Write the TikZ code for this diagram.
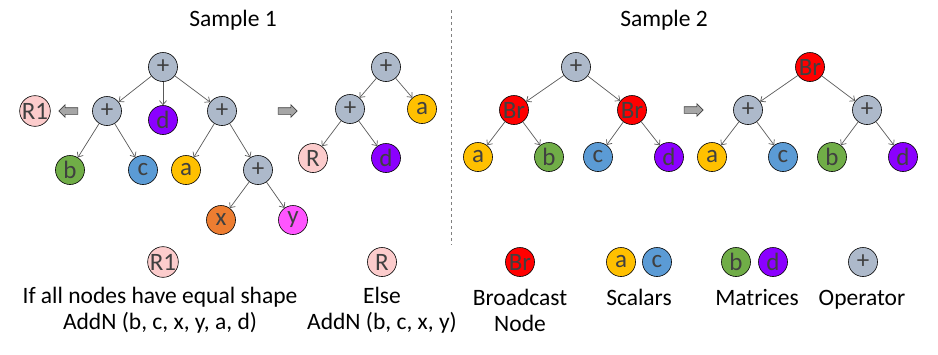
\documentclass[tikz,border=0pt]{standalone}
\usepackage{fontspec}
\setmainfont{Carlito}
\usepackage{xcolor}
\definecolor{opgray}{HTML}{ADB9CA}
\definecolor{brred}{HTML}{FF0000}
\definecolor{scalyellow}{HTML}{FFC000}
\definecolor{scalblue}{HTML}{5B9BD5}
\definecolor{matgreen}{HTML}{70AD47}
\definecolor{matpurple}{HTML}{8B00FF}
\definecolor{xorange}{HTML}{ED7D31}
\definecolor{ypink}{HTML}{FF55FF}
\definecolor{rpink}{HTML}{FCCCCC}
\definecolor{txtgray}{HTML}{404040}
\definecolor{edgegray}{HTML}{595959}
\definecolor{arrowgray}{HTML}{A6A6A6}
\usepackage{tikz}
\usetikzlibrary{arrows.meta, positioning, shapes.arrows}

\begin{document}
\begin{tikzpicture}[
        x=1pt, y=-1pt,
        leaf/.style={draw=black, circle, minimum size=29pt, inner sep=0pt, line width=0.6pt, text=txtgray, font=\fontsize{25}{25}\selectfont},
        op/.style={leaf, fill=opgray},
        bcast/.style={leaf, fill=brred},
        edge/.style={-{Straight Barb[length=4pt,width=7pt]}, draw=edgegray, line width=0.7pt},
        blockarrow/.style={single arrow, draw=txtgray, fill=arrowgray, line width=0.6pt, minimum height=19pt, inner sep=3pt, single arrow head extend=3pt},
        caption/.style={font=\fontsize{23.5}{26}\selectfont, align=center, inner sep=0pt}
    ]
        \useasboundingbox (0,0) rectangle (938,354);

        % Titles
        \node[caption] (title1) at (233,20) {Sample 1};
        \node[caption] (title2) at (664,20) {Sample 2};
        \coordinate (septop) at (451,10);
        \coordinate (sepbot) at (451,245);
        \draw[dashed, draw=gray, line width=0.6pt] (septop) -- (sepbot);

        % Sample 1, input tree
        \node[op] (s1root) at (163,67) {+};
        \node[op] (s1l) at (107,111) {+};
        \node[leaf, fill=matpurple] (s1d) at (163,120) {d};
        \node[op] (s1r) at (222,111) {+};
        \node[leaf, fill=matgreen] (s1b) at (70,170) {b};
        \node[leaf, fill=scalblue] (s1c) at (143,170) {c};
        \node[leaf, fill=scalyellow] (s1a) at (186,170) {a};
        \node[op] (s1rr) at (258,170) {+};
        \node[leaf, fill=xorange] (s1x) at (221,220) {x};
        \node[leaf, fill=ypink] (s1y) at (293,220) {y};
        \node[leaf, fill=rpink] (s1R1) at (35,111) {R1};
        \node[blockarrow, shape border rotate=180] (s1back) at (70,111) {};
        \node[blockarrow] (s1fwd) at (286,111) {};

        \draw[edge] (s1root) -- (s1l);
        \draw[edge] (s1root) -- (s1d);
        \draw[edge] (s1root) -- (s1r);
        \draw[edge] (s1l) -- (s1b);
        \draw[edge] (s1l) -- (s1c);
        \draw[edge] (s1r) -- (s1a);
        \draw[edge] (s1r) -- (s1rr);
        \draw[edge] (s1rr) -- (s1x);
        \draw[edge] (s1rr) -- (s1y);

        % Sample 1, result tree
        \node[op] (o1root) at (386,67) {+};
        \node[op] (o1l) at (350,109) {+};
        \node[leaf, fill=scalyellow] (o1a) at (422,109) {a};
        \node[leaf, fill=rpink] (o1R) at (313,158) {R};
        \node[leaf, fill=matpurple] (o1d) at (386,158) {d};

        \draw[edge] (o1root) -- (o1l);
        \draw[edge] (o1root) -- (o1a);
        \draw[edge] (o1l) -- (o1R);
        \draw[edge] (o1l) -- (o1d);

        % Sample 2, input tree
        \node[op] (s2root) at (576,67) {+};
        \node[bcast] (s2bl) at (514,110) {Br};
        \node[bcast] (s2br) at (632,110) {Br};
        \node[leaf, fill=scalyellow] (s2a) at (478,157) {a};
        \node[leaf, fill=matgreen] (s2b) at (549,157) {b};
        \node[leaf, fill=scalblue] (s2c) at (598,157) {c};
        \node[leaf, fill=matpurple] (s2d) at (669,157) {d};
        \node[blockarrow] (s2fwd) at (692,110) {};

        \draw[edge] (s2root) -- (s2bl);
        \draw[edge] (s2root) -- (s2br);
        \draw[edge] (s2bl) -- (s2a);
        \draw[edge] (s2bl) -- (s2b);
        \draw[edge] (s2br) -- (s2c);
        \draw[edge] (s2br) -- (s2d);

        % Sample 2, result tree
        \node[bcast] (o2root) at (810,67) {Br};
        \node[op] (o2l) at (748,110) {+};
        \node[op] (o2r) at (867,110) {+};
        \node[leaf, fill=scalyellow] (o2a) at (712,157) {a};
        \node[leaf, fill=scalblue] (o2c) at (783,157) {c};
        \node[leaf, fill=matgreen] (o2b) at (832,157) {b};
        \node[leaf, fill=matpurple] (o2d) at (903,157) {d};

        \draw[edge] (o2root) -- (o2l);
        \draw[edge] (o2root) -- (o2r);
        \draw[edge] (o2l) -- (o2a);
        \draw[edge] (o2l) -- (o2c);
        \draw[edge] (o2r) -- (o2b);
        \draw[edge] (o2r) -- (o2d);

        % Legend
        \node[leaf, fill=rpink] (legR1) at (163,262) {R1};
        \node[caption] (capR1) at (160,310) {If all nodes have equal shape\\AddN (b, c, x, y, a, d)};
        \node[leaf, fill=rpink] (legR) at (382,262) {R};
        \node[caption] (capR) at (382,310) {Else\\AddN (b, c, x, y)};
        \node[bcast] (legBr) at (520,262) {Br};
        \node[caption] (capBr) at (520,310) {Broadcast\\Node};
        \node[leaf, fill=scalyellow] (lega) at (621,262) {a};
        \node[leaf, fill=scalblue] (legc) at (657,262) {c};
        \node[caption, anchor=base] (capsc) at (639,305) {Scalars};
        \node[leaf, fill=matgreen] (legb) at (736,262) {b};
        \node[leaf, fill=matpurple] (legd) at (773,262) {d};
        \node[caption, anchor=base] (capmat) at (757,305) {Matrices};
        \node[op] (legop) at (863,262) {+};
        \node[caption, anchor=base] (capop) at (862,305) {Operator};
    \end{tikzpicture}
\end{document}
